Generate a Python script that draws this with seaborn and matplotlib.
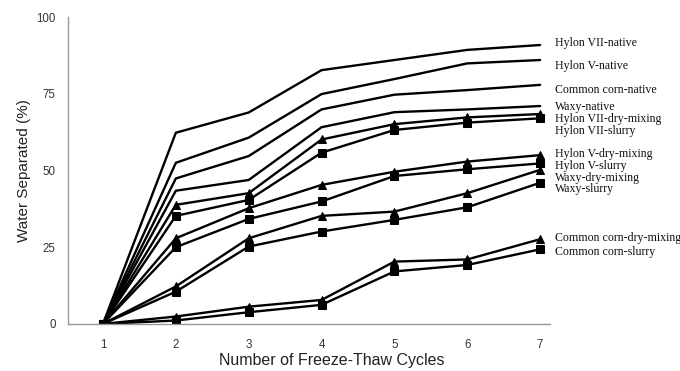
import matplotlib
matplotlib.use("Agg")
import matplotlib.pyplot as plt
import seaborn as sns
import pandas as pd

cycles = [1, 2, 3, 4, 5, 6, 7]

hylon7_native = [0, 62.3, 68.9, 82.7, 86.0, 89.3, 90.9]
hylon5_native = [0, 52.5, 60.7, 74.9, 79.8, 84.9, 86.0]
common_native = [0, 47.4, 54.7, 69.9, 74.7, 76.2, 77.9]
waxy_native = [0, 43.4, 46.9, 64.1, 69.0, 69.9, 71.0]
hylon7_dry = [0, 38.8, 42.6, 60.1, 65.1, 67.3, 68.4]
hylon7_slurry = [0, 35.2, 40.4, 55.8, 63.2, 65.6, 67.0]
hylon5_dry = [0, 27.9, 37.7, 45.3, 49.6, 52.9, 55.0]
hylon5_slurry = [0, 25.0, 34.2, 39.9, 48.2, 50.4, 52.3]
waxy_dry = [0, 12.2, 27.9, 35.2, 36.6, 42.6, 50.2]
waxy_slurry = [0, 10.5, 25.2, 30.1, 33.9, 38.0, 46.0]
common_dry = [0, 2.4, 5.6, 7.8, 20.3, 21.0, 27.6]
common_slurry = [0, 1.1, 3.8, 6.2, 17.1, 19.2, 24.3]

series_names = [
    "Hylon VII-native", "Hylon V-native", "Common corn-native", "Waxy-native",
    "Hylon VII-dry-mixing", "Hylon VII-slurry", "Hylon V-dry-mixing", "Hylon V-slurry",
    "Waxy-dry-mixing", "Waxy-slurry", "Common corn-dry-mixing", "Common corn-slurry",
]
series_values = [
    hylon7_native, hylon5_native, common_native, waxy_native,
    hylon7_dry, hylon7_slurry, hylon5_dry, hylon5_slurry,
    waxy_dry, waxy_slurry, common_dry, common_slurry,
]
label_y = [91.6, 84.1, 76.2, 70.6, 66.8, 63.0, 55.4, 51.6, 47.7, 43.9, 27.9, 23.4]

sns.set_style("white")
plt.rcParams['font.family'] = ['Liberation Sans', 'DejaVu Sans']

fig = plt.figure(figsize=(6.8, 3.71), dpi=100)
ax = fig.add_axes([0.1, 0.127, 0.709, 0.827])

for name, vals in zip(series_names, series_values):
    if "native" in name:
        marker, ms = None, 0
    elif "dry" in name:
        marker, ms = "^", 6
    else:
        marker, ms = "s", 5.2
    df = pd.DataFrame({"cycle": cycles, "value": vals})
    sns.lineplot(data=df, x="cycle", y="value", ax=ax, color="black", lw=1.7,
                 marker=marker, markersize=ms, markeredgecolor="black",
                 markerfacecolor="black", legend=False)

for name, vals, ly in zip(series_names, series_values, label_y):
    ax.text(7.2, ly, name, fontsize=8.6, family=['Liberation Serif', 'DejaVu Serif'],
            va="center", ha="left", color="#111111", clip_on=False)

ax.set_xlim(0.52, 7.137)
ax.set_ylim(0, 100)
ax.set_xticks(cycles)
ax.set_yticks([0, 25, 50, 75, 100])
ax.tick_params(axis="x", length=0, pad=11, labelsize=8.3, colors="#333333")
ax.tick_params(axis="y", length=0, pad=9, labelsize=8.3, colors="#333333")
ax.set_xlabel("Number of Freeze-Thaw Cycles", fontsize=11.5, color="#222222")
ax.xaxis.set_label_coords(0.548, -0.118)
ax.xaxis.label.set_va("center")
ax.set_ylabel("Water Separated (%)", fontsize=11, color="#222222", labelpad=4)
for s in ["top", "right"]:
    ax.spines[s].set_visible(False)
for s in ["left", "bottom"]:
    ax.spines[s].set_color("#999999")
    ax.spines[s].set_linewidth(1.0)
ax.grid(False)

fig.savefig("out.png", dpi=100)
